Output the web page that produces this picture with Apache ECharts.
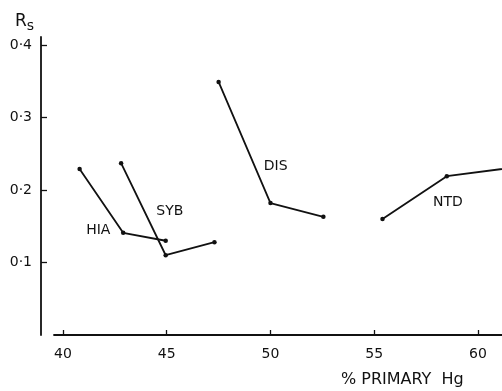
<!DOCTYPE html>
<html>
<head>
<meta charset="utf-8">
<script src="https://cdn.jsdelivr.net/npm/echarts@6/dist/echarts.min.js"></script>
<style>
  html, body { margin: 0; padding: 0; background: #fff; }
  #box { width: 502px; height: 391px; }
</style>
</head>
<body>
<div id="box"></div>
<script>
var chart = echarts.init(document.getElementById('box'));

// % primary Hg vs Rs, one line per group
var hiaData = [[40.8, 0.229], [42.9, 0.141], [44.95, 0.130]];
var sybData = [[42.8, 0.237], [44.95, 0.110], [47.3, 0.128]];
var disData = [[47.5, 0.349], [50.0, 0.182], [52.55, 0.163]];
var ntdData = [[55.4, 0.160], [58.5, 0.219], [62.5, 0.234]];

// where the group names sit
var groupLabels = [
  [41.7, 0.145, 'HIA'],
  [45.15, 0.170, 'SYB'],
  [50.25, 0.232, 'DIS'],
  [58.55, 0.183, 'NTD']
];

var xTicks = [40, 45, 50, 55, 60];
var yTicks = [0.1, 0.2, 0.3, 0.4];

var font = 'DejaVu Sans';

function lineSeries(name, data) {
  return {
    name: name,
    type: 'line',
    data: data,
    symbol: 'circle',
    symbolSize: 4.5,
    clip: true,
    lineStyle: { color: '#111', width: 1.8 },
    itemStyle: { color: '#111' }
  };
}

var option = {
  animation: false,
  title: [{
    text: 'R{s|s}',
    left: 10,
    top: 5,
    textStyle: {
      fontFamily: font, fontSize: 17, fontWeight: 'normal', color: '#111',
      rich: { s: { fontFamily: font, fontSize: 14, color: '#111', padding: [9, 0, 0, 0] } }
    }
  }, {
    text: '% PRIMARY  Hg',
    left: 336,
    top: 367,
    textStyle: { fontFamily: font, fontSize: 16, fontWeight: 'normal', color: '#111' }
  }],
  grid: { left: 54, right: 0, top: 37, bottom: 56 },
  xAxis: {
    type: 'value',
    min: 39.566,
    max: 61.16,
    splitLine: { show: false },
    axisLine: { lineStyle: { color: '#111', width: 1.8 } },
    axisTick: { inside: true, length: 5, customValues: xTicks, lineStyle: { color: '#111', width: 1.3 } },
    axisLabel: { customValues: xTicks, margin: 12, fontFamily: font, fontSize: 14, color: '#111' }
  },
  yAxis: {
    type: 'value',
    min: 0,
    max: 0.411,
    offset: 13,
    splitLine: { show: false },
    axisLine: { show: true, lineStyle: { color: '#111', width: 1.8 } },
    axisTick: { inside: true, length: 6, customValues: yTicks, lineStyle: { color: '#111', width: 1.3 } },
    axisLabel: {
      customValues: yTicks, margin: 9, fontFamily: font, fontSize: 14, color: '#111',
      formatter: function (v) { return v.toFixed(1).replace('.', '\u00b7'); }
    }
  },
  series: [
    lineSeries('HIA', hiaData),
    lineSeries('SYB', sybData),
    lineSeries('DIS', disData),
    lineSeries('NTD', ntdData),
    {
      name: 'labels',
      type: 'scatter',
      data: groupLabels,
      symbolSize: 0,
      itemStyle: { opacity: 1, color: '#111' },
      label: {
        show: true,
        position: 'inside',
        formatter: function (p) { return p.data[2]; },
        fontFamily: font, fontSize: 14, color: '#111',
        textBorderWidth: 0, opacity: 1
      }
    }
  ]
};

chart.setOption(option);
</script>
</body>
</html>
